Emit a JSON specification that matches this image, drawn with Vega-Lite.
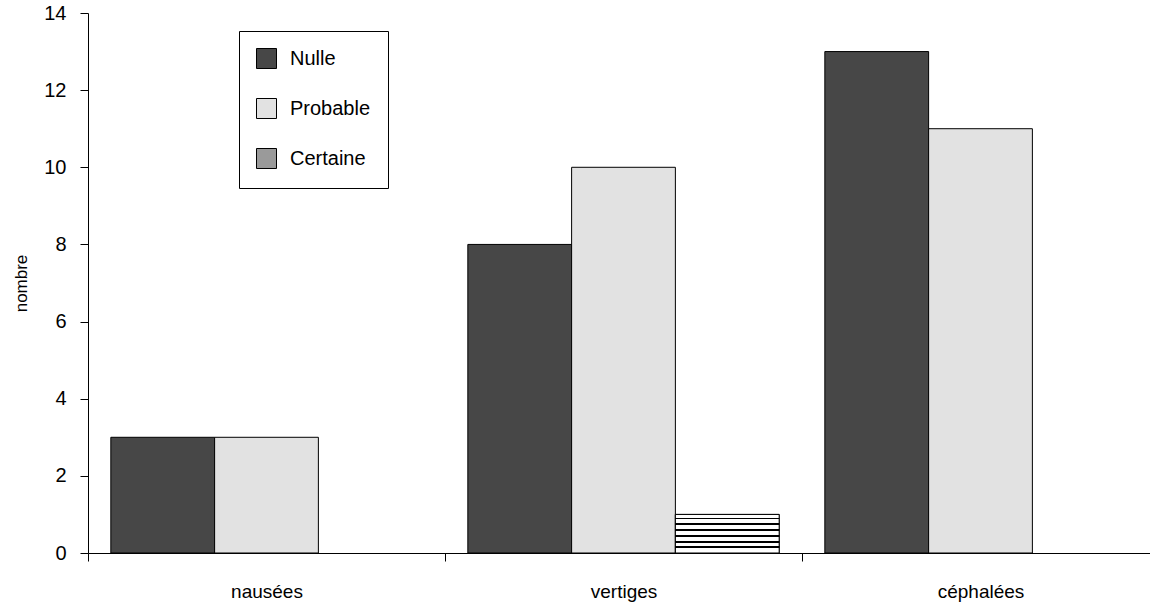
{
  "$schema": "https://vega.github.io/schema/vega-lite/v6.json",
  "width": 1071,
  "height": 540,
  "autosize": "none",
  "padding": {"left": 88, "top": 13, "right": 0, "bottom": 51},
  "background": "white",
  "config": {
    "font": "Liberation Sans",
    "view": {"stroke": null},
    "axis": {"domainColor": "black", "tickColor": "black", "labelColor": "black", "titleColor": "black", "grid": false}
  },
  "data": {
    "values": [
      {"symptome": "nausées", "imputabilite": "Nulle", "nombre": 3},
      {"symptome": "nausées", "imputabilite": "Probable", "nombre": 3},
      {"symptome": "vertiges", "imputabilite": "Nulle", "nombre": 8},
      {"symptome": "vertiges", "imputabilite": "Probable", "nombre": 10},
      {"symptome": "vertiges", "imputabilite": "Certaine", "nombre": 1},
      {"symptome": "céphalées", "imputabilite": "Nulle", "nombre": 13},
      {"symptome": "céphalées", "imputabilite": "Probable", "nombre": 11}
    ]
  },
  "encoding": {
    "x": {
      "field": "symptome",
      "type": "nominal",
      "sort": ["nausées", "vertiges", "céphalées"],
      "scale": {"paddingInner": 0, "paddingOuter": 0},
      "axis": {"title": null, "labelAngle": 0, "labelFontSize": 19, "tickBand": "extent", "tickSize": 8, "labelPadding": 21}
    },
    "xOffset": {
      "field": "imputabilite",
      "type": "nominal",
      "scale": {"domain": ["Nulle", "Probable", "Certaine"], "paddingInner": 0, "paddingOuter": 0.22}
    },
    "y": {
      "field": "nombre",
      "type": "quantitative",
      "scale": {"domain": [0, 14], "nice": false},
      "axis": {"values": [0, 2, 4, 6, 8, 10, 12, 14], "title": "nombre", "titleFontSize": 17, "titleFontWeight": "normal", "titlePadding": 13, "labelFontSize": 20, "tickSize": 8, "labelPadding": 14}
    }
  },
  "layer": [
    {
      "mark": {"type": "bar", "stroke": "black", "strokeWidth": 1},
      "encoding": {
        "fill": {
          "field": "imputabilite",
          "type": "nominal",
          "scale": {"domain": ["Nulle", "Probable", "Certaine"], "range": ["#474747", "#e2e2e2", "#9a9a9a"]},
          "legend": {
            "title": null,
            "orient": "none",
            "legendX": 151,
            "legendY": 18,
            "symbolType": "square",
            "symbolSize": 400,
            "symbolStrokeColor": "black",
            "symbolStrokeWidth": 1,
            "labelFontSize": 20,
            "labelColor": "black",
            "labelOffset": 13,
            "rowPadding": 25,
            "padding": 17,
            "strokeColor": "black",
            "fillColor": "white",
            "encode": {
              "symbols": {
                "update": {
                  "stroke": {"value": "black"},
                  "strokeWidth": {"value": 1}
                }
              }
            }
          }
        }
      }
    },
    {
      "transform": [{"filter": "datum.imputabilite === 'Certaine'"}],
      "mark": {
        "type": "bar",
        "stroke": "black",
        "strokeWidth": 1,
        "fill": {"gradient": "linear", "x1": 0, "y1": 0, "x2": 0, "y2": 1, "stops": [
          {"offset": 0, "color": "white"}, {"offset": 0.08, "color": "white"}, {"offset": 0.08, "color": "black"}, {"offset": 0.13, "color": "black"},
          {"offset": 0.13, "color": "white"}, {"offset": 0.23, "color": "white"}, {"offset": 0.23, "color": "black"}, {"offset": 0.28, "color": "black"},
          {"offset": 0.28, "color": "white"}, {"offset": 0.38, "color": "white"}, {"offset": 0.38, "color": "black"}, {"offset": 0.43, "color": "black"},
          {"offset": 0.43, "color": "white"}, {"offset": 0.53, "color": "white"}, {"offset": 0.53, "color": "black"}, {"offset": 0.58, "color": "black"},
          {"offset": 0.58, "color": "white"}, {"offset": 0.68, "color": "white"}, {"offset": 0.68, "color": "black"}, {"offset": 0.73, "color": "black"},
          {"offset": 0.73, "color": "white"}, {"offset": 0.83, "color": "white"}, {"offset": 0.83, "color": "black"}, {"offset": 0.88, "color": "black"},
          {"offset": 0.88, "color": "white"}, {"offset": 1, "color": "white"}
        ]}
      },
      "encoding": {}
    }
  ]
}
